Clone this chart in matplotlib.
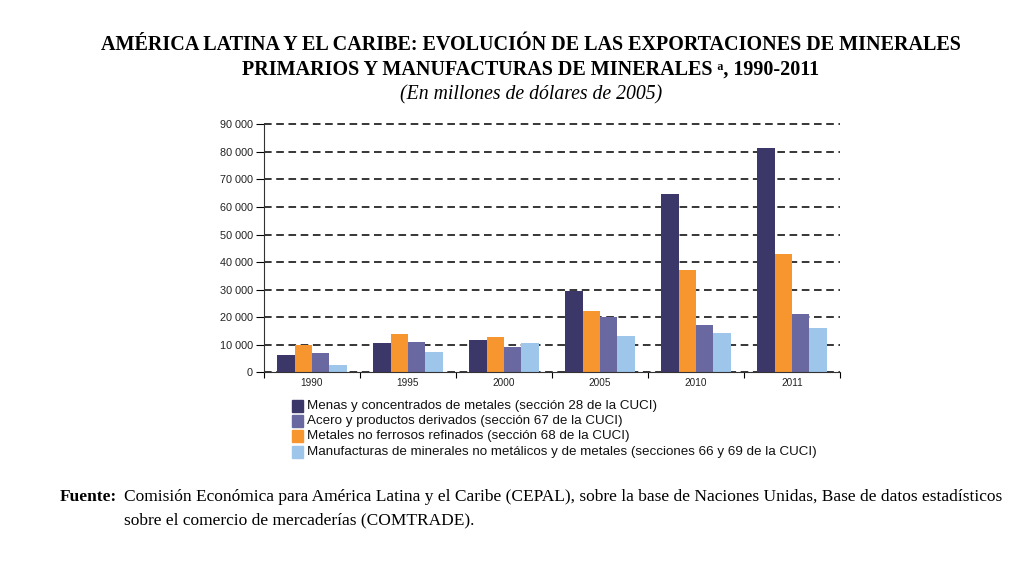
import matplotlib
matplotlib.use('Agg')
import matplotlib.pyplot as plt
import numpy as np
from matplotlib.patches import Rectangle

years = ['1990', '1995', '2000', '2005', '2010', '2011']
menas = [6100, 10600, 11800, 29400, 64600, 81400]       # seccion 28
no_ferrosos = [9900, 13800, 12800, 22100, 37300, 43100]  # seccion 68
acero = [7100, 11100, 9100, 20000, 17200, 21000]         # seccion 67
manufacturas = [2800, 7300, 10600, 13300, 14400, 15900]  # secciones 66 y 69

labels = ['Menas y concentrados de metales (sección 28 de la CUCI)',
          'Acero y productos derivados (sección 67 de la CUCI)',
          'Metales no ferrosos refinados (sección 68 de la CUCI)',
          'Manufacturas de minerales no metálicos y de metales (secciones 66 y 69 de la CUCI)']
c_menas = '#3c3769'
c_acero = '#6a68a0'
c_nofe = '#f7962f'
c_manu = '#9ec5ea'

fig = plt.figure(figsize=(10.24, 5.76), dpi=100)
ax = fig.add_axes([264/1024, 1-372.3/576, 576/1024, 248/576])

x = np.arange(len(years))
w = 0.182
# bar order in each group: menas, no ferrosos, acero, manufacturas
ax.bar(x - 1.5*w, menas, w, color=c_menas, zorder=3)
ax.bar(x - 0.5*w, no_ferrosos, w, color=c_nofe, zorder=3)
ax.bar(x + 0.5*w, acero, w, color=c_acero, zorder=3)
ax.bar(x + 1.5*w, manufacturas, w, color=c_manu, zorder=3)

ax.set_xlim(-0.5, len(years) - 0.5)
ax.set_ylim(0, 90000)
ax.set_yticks(np.arange(0, 90001, 10000))
ax.set_yticklabels(['0'] + [f'{v//1000} 000' for v in range(10000, 90001, 10000)])
ax.set_xticks(x)
ax.set_xticklabels(years)
ax.set_xticks(np.arange(-0.5, len(years), 1), minor=True)
ax.tick_params(axis='x', which='major', length=0, labelsize=7.2, pad=4, labelcolor='#222222')
ax.tick_params(axis='x', which='minor', length=4, width=0.8, direction='out')
ax.tick_params(axis='y', length=6, width=0.8, labelsize=7.8, pad=2, labelcolor='#222222')
for t in ax.get_xticklabels() + ax.get_yticklabels():
    t.set_family('Liberation Sans')

ax.yaxis.grid(True, color='black', linestyle=(0, (5, 3)), linewidth=1.1, zorder=0)
for gl in ax.get_ygridlines():
    gl.set_clip_on(False)
ax.spines['top'].set_visible(False)
ax.spines['right'].set_visible(False)
ax.spines['left'].set_color('#333333')
ax.spines['bottom'].set_color('#333333')
ax.spines['bottom'].set_zorder(4)

# legend drawn manually under the axes
leg_colors = [c_menas, c_acero, c_nofe, c_manu]
for i, (lab, col) in enumerate(zip(labels, leg_colors)):
    yc = 406 + i*15.2
    fig.patches.append(Rectangle((292/1024, 1-(yc+6)/576), 11/1024, 12/576,
                                 transform=fig.transFigure, color=col))
    fig.text(307/1024, 1-yc/576, lab, fontsize=9.6, family='Liberation Sans',
             va='center', ha='left', color='#111111')

fig.text(531/1024, 1-45/576,
         'AMÉRICA LATINA Y EL CARIBE: EVOLUCIÓN DE LAS EXPORTACIONES DE MINERALES',
         fontsize=14.5, fontweight='bold', family=['Liberation Serif', 'DejaVu Serif'],
         ha='center', va='center')
fig.text(531/1024, 1-70/576,
         'PRIMARIOS Y MANUFACTURAS DE MINERALES ᵃ, 1990-2011',
         fontsize=14.5, fontweight='bold', family=['Liberation Serif', 'DejaVu Serif'],
         ha='center', va='center')
fig.text(531/1024, 1-95/576, '(En millones de dólares de 2005)',
         fontsize=14.2, style='italic', family='Liberation Serif',
         ha='center', va='center')

fig.text(60/1024, 1-497/576, 'Fuente:', fontsize=12.5, fontweight='bold',
         family='Liberation Serif', ha='left', va='center')
fig.text(124/1024, 1-497/576,
         'Comisión Económica para América Latina y el Caribe (CEPAL), sobre la base de Naciones Unidas, Base de datos estadísticos',
         fontsize=12.5, family='Liberation Serif', ha='left', va='center')
fig.text(124/1024, 1-520/576, 'sobre el comercio de mercaderías (COMTRADE).',
         fontsize=12.5, family='Liberation Serif', ha='left', va='center')

fig.savefig('out.png', dpi=100, facecolor='white')
